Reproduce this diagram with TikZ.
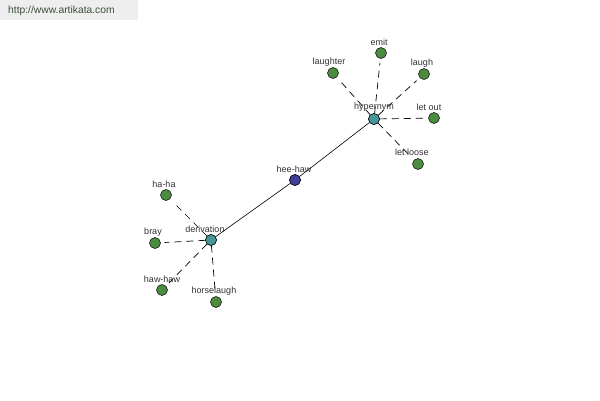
\documentclass[tikz,border=0pt]{standalone}
\usepackage{fontspec}
\setmainfont{Liberation Sans}
\definecolor{leafc}{RGB}{76,140,64}
\definecolor{hubc}{RGB}{72,150,150}
\definecolor{midc}{RGB}{64,64,150}
\definecolor{wmbg}{RGB}{238,238,238}
\definecolor{wmtx}{RGB}{60,80,60}
\definecolor{labc}{RGB}{50,50,50}
\begin{document}
\begin{tikzpicture}[x=1pt,y=-1pt,
  dot/.style={circle,draw=black,line width=0.5pt,minimum size=11pt,inner sep=0pt},
  leaf/.style={dot,fill=leafc},
  hub/.style={dot,fill=hubc},
  mid/.style={dot,fill=midc},
  lab/.style={font=\fontsize{9}{10}\selectfont,text=labc,inner sep=0pt},
  dline/.style={draw=black,line width=0.7pt,dash pattern=on 7pt off 5pt},
  sline/.style={draw=black,line width=0.6pt}]
\useasboundingbox (0,0) rectangle (600,400);
\fill[white] (0,0) rectangle (600,400);
\fill[wmbg] (0,0) rectangle (138,20);
\node[font=\fontsize{10.3}{11}\selectfont,text=wmtx,anchor=west,inner sep=0pt] (wm) at (8,11) {http://www.artikata.com};
% nodes
\node[mid] (heehaw) at (295,180) {};
\node[hub] (hyper) at (374,119) {};
\node[hub] (deriv) at (211,240) {};
\node[leaf] (emit) at (381,53) {};
\node[leaf] (laughter) at (333,73) {};
\node[leaf] (laugh) at (424,74) {};
\node[leaf] (letout) at (434,118) {};
\node[leaf] (letloose) at (418,164) {};
\node[leaf] (haha) at (166,195) {};
\node[leaf] (bray) at (155,243) {};
\node[leaf] (hawhaw) at (162,290) {};
\node[leaf] (horse) at (216,302) {};
% edges
\draw[sline] (deriv) -- (heehaw);
\draw[sline] (heehaw) -- (hyper);
\foreach \t in {emit,laughter,laugh,letout,letloose}
  \draw[dline,shorten >=4pt] (hyper) -- (\t);
\foreach \t in {haha,bray,hawhaw,horse}
  \draw[dline,shorten >=4pt] (deriv) -- (\t);
% redraw dots on top
\node[mid] at (heehaw) {};
\node[hub] at (hyper) {};
\node[hub] at (deriv) {};
% labels
\node[lab] (l1) at (294,169) {hee-haw};
\node[lab] (l2) at (374,107) {hypernym};
\node[lab] (l3) at (205,229) {derivation};
\node[lab] (l4) at (379,42) {emit};
\node[lab] (l5) at (329,62) {laughter};
\node[lab] (l6) at (422,63) {laugh};
\node[lab] (l7) at (429,107) {let out};
\node[lab] (l8) at (412,152) {let loose};
\node[lab] (l9) at (164,184) {ha-ha};
\node[lab] (l10) at (153,232) {bray};
\node[lab] (l11) at (162,279) {haw-haw};
\node[lab] (l12) at (214,291) {horselaugh};
\end{tikzpicture}
\end{document}
